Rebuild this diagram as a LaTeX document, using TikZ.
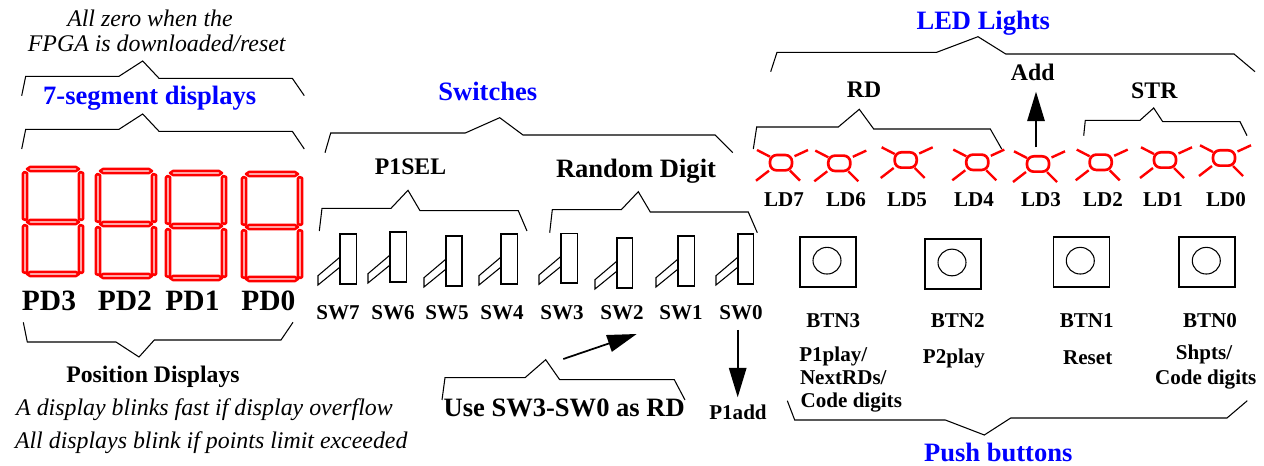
\documentclass[tikz,border=0pt]{standalone}
\usepackage{fontspec}
\setmainfont{Liberation Serif}
\usetikzlibrary{arrows.meta,shapes.geometric}

\begin{document}
\begin{tikzpicture}[x=0.75pt,y=-0.75pt,inner sep=0pt,outer sep=0pt,
                    pics/sevenseg/.style={code={
                      \foreach \y in {0,53,105}
                        \draw[segline] (5,\y+3) -- (8,\y+1) -- (54,\y+1) -- (57,\y+3) -- (54,\y+5) -- (8,\y+5) -- cycle;
                      \foreach \x in {1,57}
                        \foreach \y in {6,59}
                          \draw[segline] (\x,\y+1.5) -- (\x+1.5,\y) -- (\x+4,\y+1) -- (\x+4,\y+47) -- (\x+2.5,\y+48) -- (\x,\y+47) -- cycle;
                    }}]
  \tikzstyle{segline}=[draw=red,line width=1.9pt,line join=round]
  \tikzstyle{bracket}=[draw=black,line width=0.8pt]
  \tikzstyle{switchbar}=[draw=black,line width=1.3pt,rectangle,anchor=south west,minimum height=37.3pt]
  \tikzstyle{lever}=[draw=black,line width=0.8pt]
  \tikzstyle{ledoval}=[draw=red,line width=2pt,rectangle,rounded corners=5pt,minimum width=16.5pt,minimum height=11.5pt]
  \tikzstyle{ledray}=[draw=red,line width=1.8pt]
  \tikzstyle{btnbox}=[draw=black,line width=1.3pt,rectangle,minimum width=42pt,minimum height=37.5pt]
  \tikzstyle{btnknob}=[draw=black,line width=0.8pt,ellipse,minimum width=21pt,minimum height=20pt]
  \tikzstyle{bigarrow}=[-{Triangle[length=22pt,width=13pt]},draw=black,line width=1.3pt]
  \tikzstyle{title}=[anchor=base,text=blue,font=\bfseries\fontsize{19.9}{22}\selectfont]
  \tikzstyle{digitlabel}=[anchor=base,font=\bfseries\fontsize{22.1}{24}\selectfont]
  \tikzstyle{grouplabel}=[anchor=base,font=\bfseries\fontsize{17.8}{20}\selectfont]
  \tikzstyle{biglabel}=[anchor=base,font=\bfseries\fontsize{19.9}{22}\selectfont]
  \tikzstyle{smalllabel}=[anchor=base,font=\bfseries\fontsize{15.8}{18}\selectfont]
  \tikzstyle{note}=[anchor=base,font=\itshape\fontsize{17.9}{20}\selectfont]

  \useasboundingbox (0,0) rectangle (1264,466);

  % displays
  \foreach \n/\x/\y in {3/22/166,2/95/168,1/165/170,0/241/171}
    \pic (disp\n) at (\x,\y) {sevenseg};
  \foreach \n/\x in {3/49,2/124.8,1/192.5,0/268.3}
    \node[digitlabel] (pd\n) at (\x,310.7) {PD\n};

  \node[note] (zeroa) at (150,26.7) {All zero when the};
  \node[note] (zerob) at (156.7,51.7) {FPGA is downloaded/reset};
  \node[title] (segtitle) at (149.7,105) {7-segment displays};
  \node[grouplabel] (posdisp) at (153,383) {Position Displays};
  \node[note] (blinka) at (204.5,416) {A display blinks fast if display overflow};
  \node[note] (blinkb) at (211.2,448.3) {All displays blink if points limit exceeded};

  \draw[bracket] (21.7,95.7) -- (25.7,76.3) -- (119,76.3) -- (142.7,61) -- (159,78.3) -- (292.3,78.3) -- (304.3,95.7);
  \draw[bracket] (21.7,149) -- (25.7,129.3) -- (119,129.3) -- (142.7,114) -- (159,131.3) -- (292.3,131.3) -- (304.3,149);
  \draw[bracket] (23.3,322.3) -- (27.3,342) -- (116,342) -- (139,357) -- (154.3,340) -- (281,340) -- (293,322.3);

  % switches
  \foreach \n/\x/\y/\w in {7/339.7/284/12.5,6/389.7/282/12.5,5/445.7/286/12,4/500.7/284/12.5,
                           3/560.7/283.3/12.5,2/616.7/288/11.8,1/677.7/286/12.5,0/737.7/284/11.8} {
    \node[switchbar,minimum width=\w pt] (sw\n) at (\x,\y) {};
    \draw[lever] ([shift={(0,-26.7)}]sw\n.south west) -- ([shift={(-21.7,-8.3)}]sw\n.south west)
              -- ([shift={(-21.7,1)}]sw\n.south west) -- ([shift={(0,-16.7)}]sw\n.south west);
  }
  \foreach \n/\x in {7/338,6/393,5/447,4/502,3/562,2/622,1/681,0/741}
    \node[smalllabel] (swlabel\n) at (\x,319.3) {SW\n};

  \node[title] (swtitle) at (487.8,101) {Switches};
  \node[grouplabel] (p1sel) at (410.5,175) {P1SEL};
  \node[biglabel] (randomdigit) at (636,177.3) {Random Digit};
  \node[biglabel] (usesw) at (564.2,416.7) {Use SW3-SW0 as RD};
  \node[smalllabel] (p1add) at (738,420) {P1add};

  \draw[bracket] (325,152.7) -- (330.7,133) -- (465.3,133) -- (499.7,117.7) -- (523,135) -- (715,135) -- (732.7,152.7);
  \draw[bracket] (319.3,231) -- (322,208.3) -- (391,208.3) -- (408,190.3) -- (420,210.7) -- (518.3,210.7) -- (527,231);
  \draw[bracket] (549.7,232.7) -- (552.3,209.7) -- (621.3,209.7) -- (638.3,191.7) -- (650.3,212) -- (748.3,212) -- (757.3,232.7);
  \draw[bracket] (442,400) -- (445,377.7) -- (525,377.7) -- (545.7,359.7) -- (559.7,379.7) -- (674.3,379.7) -- (685,400);

  \coordinate (usestart) at (563.3,359);
  \coordinate (usetip) at (636.7,334);
  \coordinate (addstart) at (737.7,330);
  \coordinate (addtip) at (737.7,397.3);
  \draw[bigarrow] (usestart) -- (usetip);
  \draw[bigarrow] (addstart) -- (addtip);

  % leds
  \foreach \n/\x/\y in {7/781/162.7,6/839.3/163.3,5/905.7/160,4/977.3/162.3,
                        3/1038/164,2/1100.7/162.3,1/1165/160,0/1224/158} {
    \node[ledoval] (led\n) at (\x,\y) {};
    \draw[ledray] ([shift={(-24,-12.7)}]led\n.center) -- ([shift={(-11,-6)}]led\n.center);
    \draw[ledray] ([shift={(27,-12.7)}]led\n.center) -- ([shift={(13.5,-6.5)}]led\n.center);
    \draw[ledray] ([shift={(-25,18)}]led\n.center) -- ([shift={(-12,8)}]led\n.center);
    \draw[ledray] ([shift={(19,18)}]led\n.center) -- ([shift={(9,8)}]led\n.center);
  }
  \foreach \n/\x in {7/784,6/846,5/907,4/974,3/1041,2/1103,1/1163,0/1226}
    \node[smalllabel] (ledlabel\n) at (\x,206.7) {LD\n};

  \node[title] (ledtitle) at (983.3,29.3) {LED Lights};
  \node[grouplabel] (add) at (1032.7,80.7) {Add};
  \node[grouplabel] (rd) at (864,97.3) {RD};
  \node[grouplabel] (str) at (1154.3,99) {STR};

  \draw[bracket] (770.7,71.7) -- (777,52.3) -- (936.7,52.3) -- (978,36.7) -- (1005.7,54) -- (1234,54) -- (1255,71.7);
  \draw[bracket] (753.3,149) -- (756.7,127) -- (838.3,127) -- (859.3,109.3) -- (873.7,129) -- (990.3,129) -- (1001.7,149);
  \draw[bracket] (1083.7,135.7) -- (1085.3,120.3) -- (1140,120.3) -- (1153.7,108) -- (1162.7,121.7) -- (1240,121.7) -- (1247,135.7);

  \coordinate (ledstart) at (1036,147.3);
  \coordinate (ledtip) at (1036,91.7);
  \draw[bigarrow] (ledstart) -- (ledtip);

  % push buttons
  \foreach \n/\x/\y/\cx in {3/828/262/827,2/953/263.8/952,1/1081.5/262/1080.3,0/1207/262/1206.3} {
    \node[btnbox] (btn\n) at (\x,\y) {};
    \node[btnknob] (knob\n) at (\cx,\y-1.3) {};
  }
  \foreach \n/\x in {3/833.3,2/957.7,1/1086.7,0/1210}
    \node[smalllabel] (btnlabel\n) at (\x,328) {BTN\n};

  \node[smalllabel,anchor=base west] (p1play) at (799.3,361.7) {P1play/};
  \node[smalllabel,anchor=base west] (nextrds) at (800,385) {NextRDs/};
  \node[smalllabel,anchor=base west] (codea) at (800.7,407.3) {Code digits};
  \node[smalllabel] (p2play) at (954,363.3) {P2play};
  \node[smalllabel] (reset) at (1087.7,365) {Reset};
  \node[smalllabel] (shpts) at (1204,360) {Shpts/};
  \node[smalllabel] (codeb) at (1205.7,385) {Code digits};
  \node[title] (pushtitle) at (998.3,461.7) {Push buttons};

  \draw[bracket] (787.3,400.7) -- (794.7,420) -- (945.3,420) -- (984.3,435) -- (1010.7,418) -- (1227,418) -- (1247.3,400.7);
\end{tikzpicture}
\end{document}
